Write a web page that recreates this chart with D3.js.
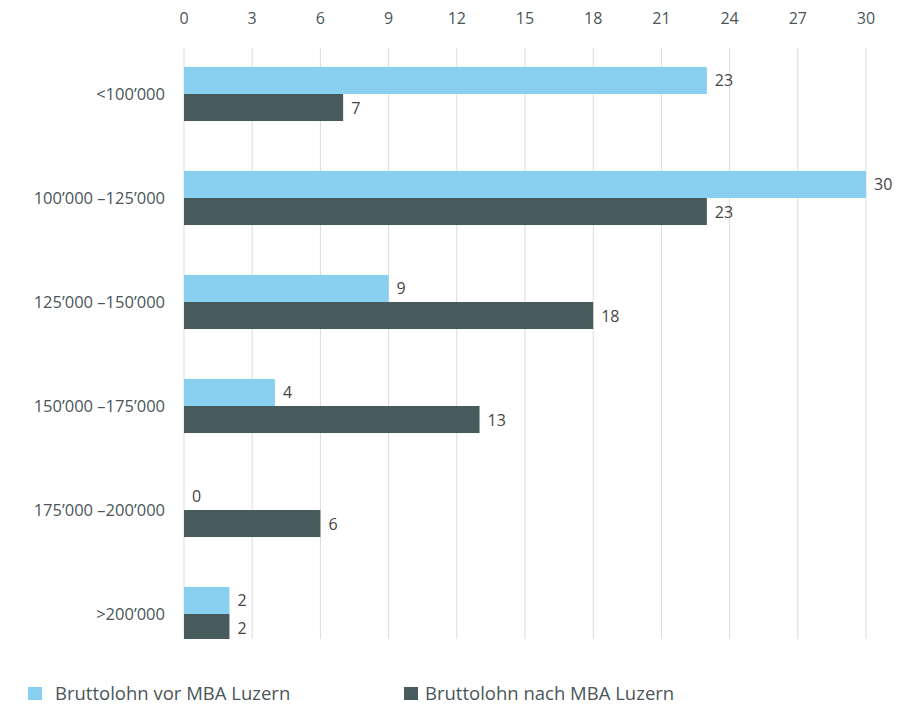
<!DOCTYPE html>
<html>
<head>
<meta charset="utf-8">
<script src="https://cdn.jsdelivr.net/npm/d3@7"></script>
<style>
  body { margin: 0; background: #fff; }
  text { font-family: "Open Sans", "Noto Sans", sans-serif; fill: #4a5659; }
  .grid line { stroke: #dcdcdc; stroke-width: 1; }
</style>
</head>
<body>
<svg id="vis" width="909" height="708"></svg>
<script>
const categories = ["<100’000", "100’000 –125’000", "125’000 –150’000", "150’000 –175’000", "175’000 –200’000", ">200’000"];
const before = [23, 30, 9, 4, 0, 2];
const after = [7, 23, 18, 13, 6, 2];
const ticks = [0, 3, 6, 9, 12, 15, 18, 21, 24, 27, 30];
const seriesNames = ["Bruttolohn vor MBA Luzern", "Bruttolohn nach MBA Luzern"];
const colors = ["#89cff0", "#475a5c"];

const svg = d3.select("svg#vis");

const x = d3.scaleLinear().domain([0, 30]).range([184, 866]);
const y = d3.scaleBand().domain(categories).range([42, 666])
  .paddingInner(0.48).paddingOuter(0.24);
const sub = d3.scaleBand().domain([0, 1]).range([0, y.bandwidth()]);

// gridlines
svg.append("g").attr("class", "grid")
  .selectAll("line")
  .data(ticks)
  .enter()
  .append("line")
  .attr("x1", d => x(d)).attr("x2", d => x(d))
  .attr("y1", 48).attr("y2", 639);

// top tick labels
svg.append("g").selectAll("text")
  .data(ticks)
  .enter()
  .append("text")
  .attr("x", d => x(d))
  .attr("y", 24)
  .attr("text-anchor", "middle")
  .style("font-size", "16px")
  .text(d => d);

// category labels
svg.append("g").selectAll("text")
  .data(categories)
  .enter()
  .append("text")
  .attr("x", 165)
  .attr("y", d => y(d) + y.bandwidth() / 2 + 6)
  .attr("text-anchor", "end")
  .style("font-size", "16.5px")
  .text(d => d);

// bars
const rows = [];
categories.forEach(function(c, i) {
  rows.push({ cat: c, s: 0, v: before[i] });
  rows.push({ cat: c, s: 1, v: after[i] });
});

svg.append("clipPath").attr("id", "clip")
  .append("rect").attr("x", 0).attr("y", 0).attr("width", 909).attr("height", 639);
const bars = svg.append("g").attr("clip-path", "url(#clip)");

bars.selectAll("rect")
  .data(rows)
  .enter()
  .append("rect")
  .attr("x", x(0))
  .attr("y", d => y(d.cat) + sub(d.s))
  .attr("width", d => x(d.v) - x(0))
  .attr("height", sub.bandwidth())
  .attr("fill", d => colors[d.s]);

svg.append("g").selectAll("text")
  .data(rows)
  .enter()
  .append("text")
  .attr("x", d => x(d.v) + 8)
  .attr("y", d => y(d.cat) + sub(d.s) + sub.bandwidth() / 2 + 6)
  .style("font-size", "16px")
  .style("fill", "#454545")
  .text(d => d.v);

// legend
const legend = svg.append("g");
const lx = [28, 404];
seriesNames.forEach(function(name, i) {
  legend.append("rect")
    .attr("x", lx[i]).attr("y", 687)
    .attr("width", 14).attr("height", 13)
    .attr("fill", colors[i]);
  legend.append("text")
    .attr("x", lx[i] + (i === 0 ? 27 : 21))
    .attr("y", 700)
    .style("font-size", "18.5px")
    .text(name);
});
</script>
</body>
</html>
